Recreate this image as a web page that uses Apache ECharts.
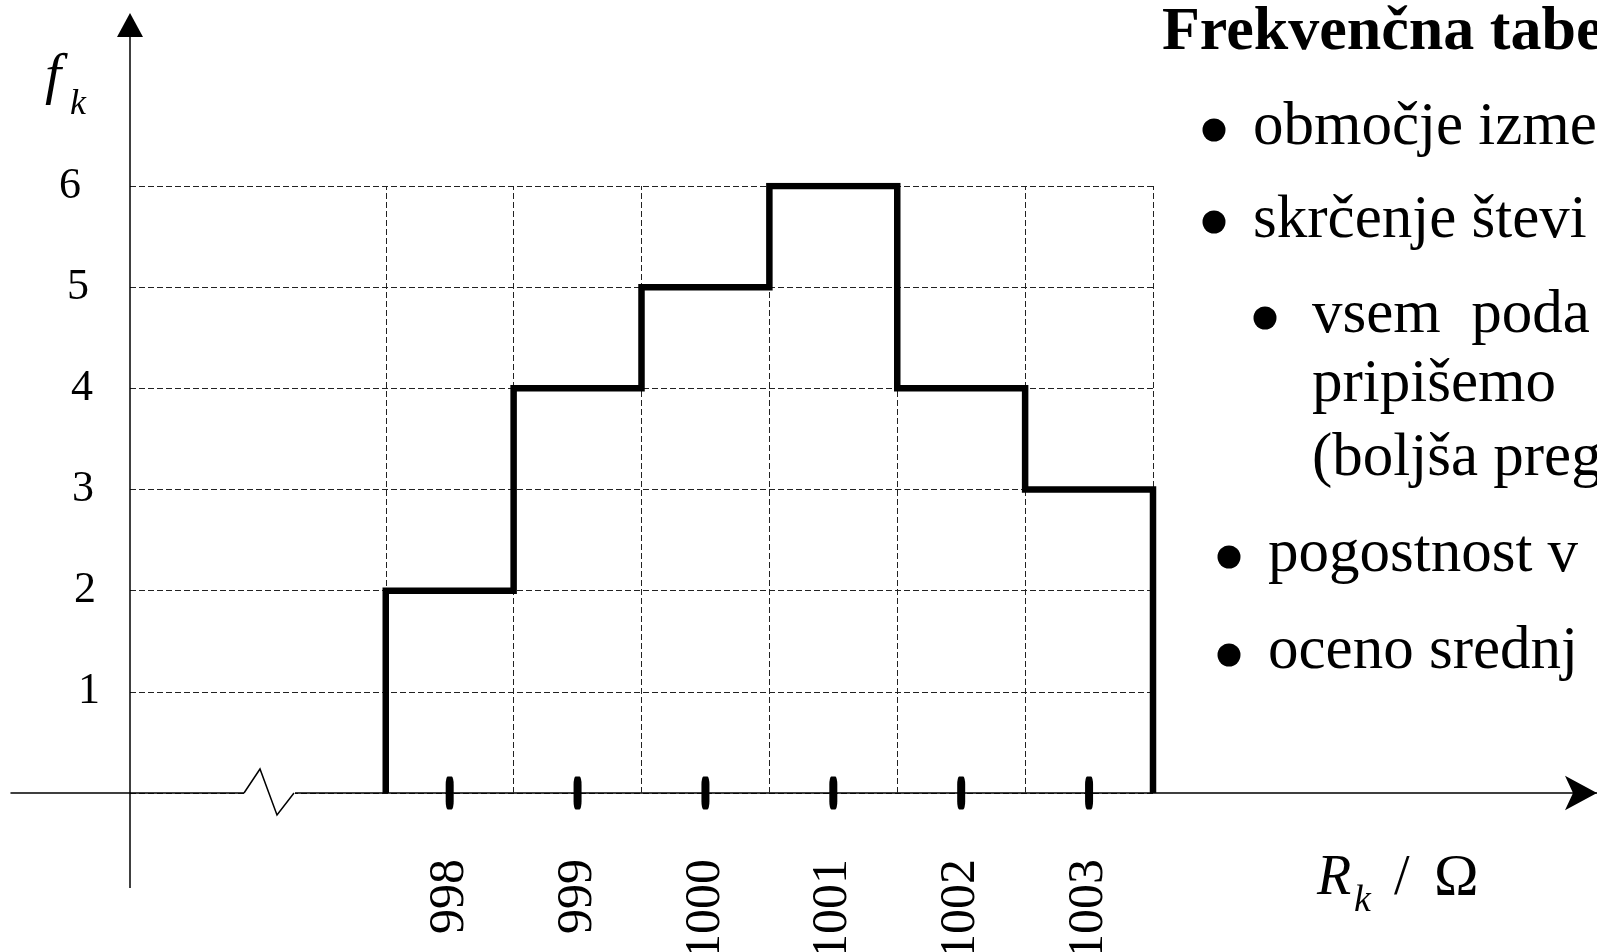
<!DOCTYPE html>
<html>
<head>
<meta charset="utf-8">
<script src="https://cdn.jsdelivr.net/npm/echarts@6/dist/echarts.min.js"></script>
<style>
  html, body { margin: 0; padding: 0; background: #fff; }
  #chart { width: 1597px; height: 952px; }
</style>
</head>
<body>
<div id="chart"></div>
<script>
// ---- data ----
const categories = [998, 999, 1000, 1001, 1002, 1003];   // R_k / Ω
const frequencies = [2, 4, 5, 6, 4, 3];                  // f_k
const yTickLabels = [1, 2, 3, 4, 5, 6];
const xTickLabels = [998, 999, 1000, 1001, 1002, 1003];
const textLines = [
  'Frekvenčna tabe',
  'območje izme',
  'skrčenje števi',
  'vsem  poda',
  'pripišemo',
  '(boljša preg',
  'pogostnost v',
  'oceno srednj'
];

// ---- derived from data ----
const half = 0.5;
const outline = [[categories[0] - half, 0]];
categories.forEach((c, i) => {
  outline.push([c - half, frequencies[i]]);
  outline.push([c + half, frequencies[i]]);
});
outline.push([categories[categories.length - 1] + half, 0]);
const binEdges = categories.map(c => c - half).concat([categories[categories.length - 1] + half]);
const tickMarks = xTickLabels.map(c => [c, 0]);

const SERIF = '"Liberation Serif", "Times New Roman", serif';
const dash = { type: [6, 3], color: '#222', width: 1 };

// slight drift of the scanned y labels (style only)
const yLabelPad = { 1: 0, 2: 4, 3: 6, 4: 7, 5: 11, 6: 19 };
const yRich = {};
yTickLabels.forEach(v => {
  yRich['l' + v] = { fontSize: 44, fontFamily: SERIF, color: '#000', padding: [0, yLabelPad[v] || 0, 0, 0] };
});

const chart = echarts.init(document.getElementById('chart'), null, { renderer: 'canvas' });

function txt(text, x, y, font, extra) {
  return Object.assign({
    type: 'text', z: 100,
    style: { text: text, x: x, y: y, font: font, fill: '#000', align: 'left', verticalAlign: 'middle' }
  }, extra || {});
}
function dot(cx, cy) {
  return { type: 'circle', z: 100, shape: { cx: cx, cy: cy, r: 11.5 }, style: { fill: '#000' } };
}

const bodyFont = '61px ' + SERIF;

chart.setOption({
  animation: false,
  backgroundColor: '#fff',
  grid: [
    { left: 130, top: 186, width: 1023, height: 607, containLabel: false, outerBoundsMode: 'none' },
    { left: 11, right: 0, top: 186, height: 607, containLabel: false, outerBoundsMode: 'none' }
  ],
  xAxis: [
    {
      type: 'value', gridIndex: 0, min: 995.5, max: 1003.5,
      axisLine: { show: false }, axisTick: { show: false }, splitLine: { show: false },
      axisLabel: {
        customValues: xTickLabels, rotate: 90, margin: 66,
        fontSize: 50, fontFamily: SERIF, color: '#000',
        formatter: v => String(v)
      }
    },
    {
      type: 'value', gridIndex: 1, min: 0, max: 1,
      axisLine: { show: true, lineStyle: { color: '#000', width: 1.5 },
        symbol: ['none', 'arrow'], symbolSize: [26, 32] },
      axisTick: { show: false }, axisLabel: { show: false }, splitLine: { show: false }
    }
  ],
  yAxis: [
    {
      type: 'value', gridIndex: 0, min: 0, max: 6, interval: 1,
      axisLine: { show: false }, axisTick: { show: false },
      splitLine: { show: true, lineStyle: dash },
      axisLabel: {
        customValues: yTickLabels, margin: 30,
        fontSize: 44, fontFamily: SERIF, color: '#000',
        formatter: v => '{l' + v + '|' + v + '}',
        rich: yRich
      }
    },
    { type: 'value', gridIndex: 1, show: false, min: 0, max: 1 }
  ],
  series: [
    {
      type: 'line', xAxisIndex: 0, yAxisIndex: 0, data: outline,
      symbol: 'none', z: 5,
      lineStyle: { color: '#000', width: 6.5, join: 'miter', cap: 'butt' },
      markLine: {
        silent: true, symbol: ['none', 'none'], label: { show: false },
        lineStyle: dash, z: 1,
        data: binEdges.map(e => ({ xAxis: e }))
      }
    },
    {
      type: 'scatter', xAxisIndex: 0, yAxisIndex: 0, data: tickMarks,
      symbol: 'roundRect', symbolSize: [8, 33], z: 6,
      itemStyle: { color: '#000', opacity: 1 }
    }
  ],
  graphic: [
    // vertical axis with arrow
    { type: 'line', z: 100, shape: { x1: 130, y1: 30, x2: 130, y2: 888 }, style: { stroke: '#000', lineWidth: 1.5 } },
    { type: 'polygon', z: 100, shape: { points: [[117, 37], [130, 13], [143, 37]] }, style: { fill: '#000' } },
    // axis break
    { type: 'rect', z: 100, shape: { x: 244, y: 786, width: 51, height: 14 }, style: { fill: '#fff' } },
    { type: 'polyline', z: 101, shape: { points: [[244, 793], [260, 769], [277, 815], [294, 793]] }, style: { stroke: '#000', lineWidth: 1.5, fill: null } },
    // axis titles
    txt('f', 45, 78, 'italic 58px ' + SERIF),
    txt('k', 70, 105, 'italic 36px ' + SERIF),
    txt('R', 1317, 879, 'italic 56px ' + SERIF),
    txt('k', 1354, 901, 'italic 38px ' + SERIF),
    txt('/', 1394, 879, '56px ' + SERIF),
    txt('Ω', 1434, 879, '60px ' + SERIF),
    // side text
    txt(textLines[0], 1162, 33, 'bold 62px ' + SERIF),
    dot(1214, 130), txt(textLines[1], 1253, 128, bodyFont),
    dot(1214, 222), txt(textLines[2], 1253, 221, bodyFont),
    dot(1265, 318), txt(textLines[3], 1312, 316, bodyFont),
    txt(textLines[4], 1312, 385, bodyFont),
    txt(textLines[5], 1312, 459, bodyFont),
    dot(1229, 557), txt(textLines[6], 1268, 555, bodyFont),
    dot(1229, 655), txt(textLines[7], 1268, 652, bodyFont)
  ]
});
</script>
</body>
</html>
